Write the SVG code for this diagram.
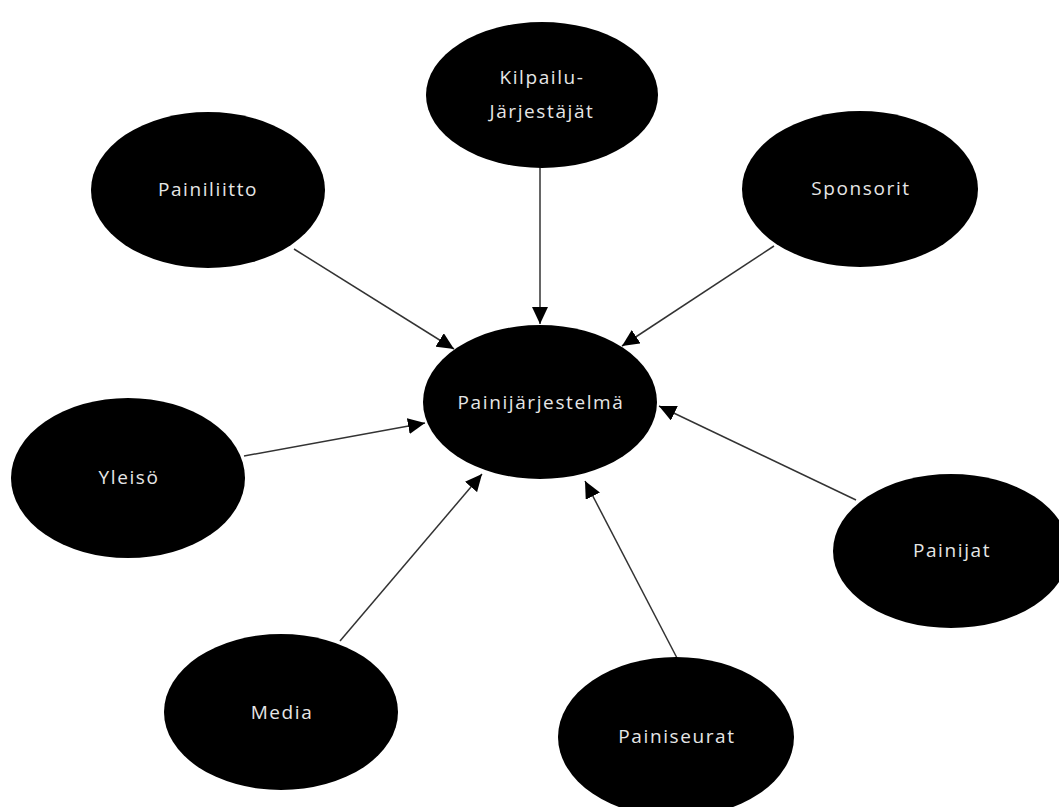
<svg xmlns="http://www.w3.org/2000/svg" width="1059" height="807" viewBox="0 0 1059 807">
  <style>
    .node { fill: #000; }
    .label { fill: #e6e6e6; font-family: "Open Sans", "Liberation Sans", sans-serif; font-size: 19px; letter-spacing: 1.6px; text-anchor: middle; }
    .edge { stroke: #333; stroke-width: 1.5; fill: none; marker-end: url(#arrow); }
  </style>
  <defs>
    <marker id="arrow" markerUnits="userSpaceOnUse" markerWidth="18" markerHeight="16" refX="17" refY="8" orient="auto">
      <path d="M0,0 L17,8 L0,16 z" fill="#000"/>
    </marker>
  </defs>
  <rect width="1059" height="807" fill="#fff"/>

  <!-- connectors: every outer node points at the central system -->
  <g id="connectors">
    <line class="edge" x1="540" y1="167" x2="540" y2="324"/>
    <line class="edge" x1="294" y1="249" x2="454" y2="349"/>
    <line class="edge" x1="774" y1="246" x2="622" y2="346"/>
    <line class="edge" x1="244" y1="456" x2="425" y2="423"/>
    <line class="edge" x1="856" y1="500" x2="659" y2="406"/>
    <line class="edge" x1="340" y1="641" x2="482" y2="474"/>
    <line class="edge" x1="677" y1="658" x2="585" y2="481"/>
  </g>

  <g id="kilpailu-jarjestajat">
    <ellipse class="node" cx="542" cy="95" rx="116" ry="73"/>
    <text class="label" x="542" y="84">Kilpailu-</text>
    <text class="label" x="542" y="118">Järjestäjät</text>
  </g>
  <g id="painiliitto">
    <ellipse class="node" cx="208" cy="190" rx="117" ry="78"/>
    <text class="label" x="208" y="196">Painiliitto</text>
  </g>
  <g id="sponsorit">
    <ellipse class="node" cx="860" cy="189" rx="118" ry="78"/>
    <text class="label" x="861" y="195">Sponsorit</text>
  </g>
  <g id="painijarjestelma">
    <ellipse class="node" cx="540" cy="402" rx="117" ry="77"/>
    <text class="label" x="541" y="409">Painijärjestelmä</text>
  </g>
  <g id="yleiso">
    <ellipse class="node" cx="128" cy="478" rx="117" ry="80"/>
    <text class="label" x="129" y="484">Yleisö</text>
  </g>
  <g id="painijat">
    <ellipse class="node" cx="951" cy="551" rx="118" ry="77"/>
    <text class="label" x="952" y="557">Painijat</text>
  </g>
  <g id="media">
    <ellipse class="node" cx="281" cy="712" rx="117" ry="78"/>
    <text class="label" x="282" y="719">Media</text>
  </g>
  <g id="painiseurat">
    <ellipse class="node" cx="676" cy="737" rx="118" ry="80"/>
    <text class="label" x="677" y="743">Painiseurat</text>
  </g>
</svg>
